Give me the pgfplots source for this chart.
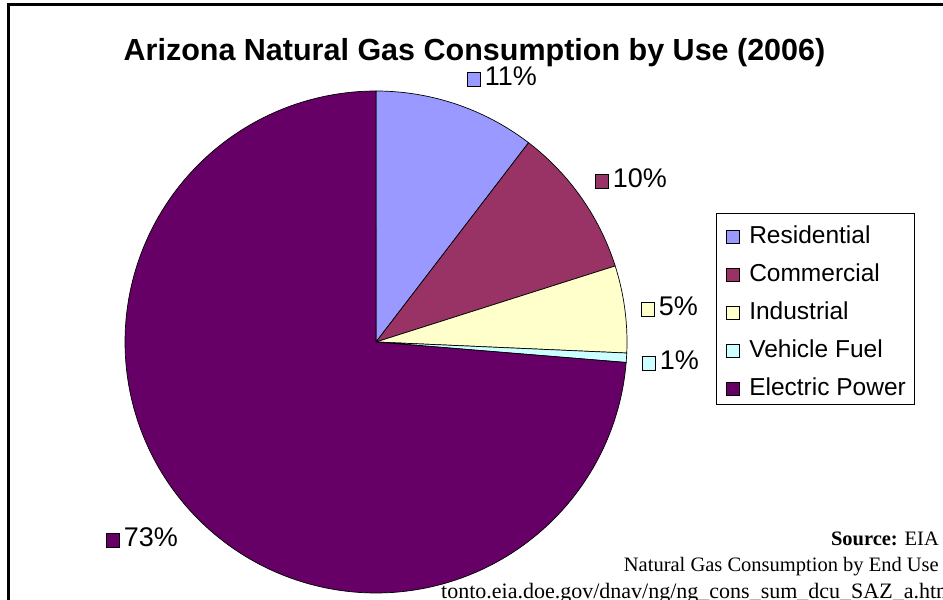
\documentclass[border=0pt]{standalone}
\usepackage{pgfplots}
\pgfplotsset{compat=1.18}
\usepackage{fontspec}
\setmainfont{Liberation Sans}
\newfontfamily\seriffont{Liberation Serif}
\definecolor{cRes}{HTML}{9999FF}
\definecolor{cCom}{HTML}{993366}
\definecolor{cInd}{HTML}{FFFFCC}
\definecolor{cVeh}{HTML}{CCFFFF}
\definecolor{cEle}{HTML}{660066}
\newcommand\sq[1]{{\setlength\fboxsep{0pt}\setlength\fboxrule{0.8pt}\fcolorbox{black}{#1}{\rule{0pt}{13pt}\rule{12pt}{0pt}}}}
% shares in percent (clockwise from 12 o'clock): Residential 10.4, Commercial 9.7, Industrial 5.6, Vehicle Fuel 0.6, Electric Power 73.7
\begin{document}
\begin{tikzpicture}[x=1pt,y=1pt]
\useasboundingbox (0,0) rectangle (943,600);
\fill[white] (0,0) rectangle (943,600);
\draw[line width=2.2pt] (8.5,-20) -- (8.5,595.5) -- (980,595.5);
\node[anchor=base, inner sep=0, font=\bfseries\fontsize{30.5}{36}\selectfont] at (474.5,539.5) {Arizona Natural Gas Consumption by Use (2006)};
\begin{axis}[at={(376pt,258pt)}, anchor=center, hide axis, x=251pt, y=251pt,
  xmin=-1, xmax=1, ymin=-1, ymax=1, clip=false,
  legend cell align=left,
  legend image code/.code={\path (0pt,0pt) rectangle (0pt,0pt); \draw[#1, draw=black, line width=0.8pt] (10pt,-10pt) rectangle (23pt,3pt);},
  legend style={at={(1.1773,0.757)}, anchor=north west, draw=black, line width=1pt,
    inner xsep=0pt, inner ysep=9pt, row sep=17pt,
    font=\fontsize{24.5}{28}\selectfont,
    nodes={inner xsep=9pt, inner ysep=0pt, text height=21pt, text depth=0pt}},
  every axis plot/.append style={draw=black, line width=0.7pt}]
\addplot[fill=cRes, domain=0:10.4, samples=40, variable=\t] ({cos(90-3.6*t)},{sin(90-3.6*t)}) -- (axis cs:0,0) -- cycle;
\addlegendentry{Residential}
\addplot[fill=cCom, domain=10.4:20.1, samples=40, variable=\t] ({cos(90-3.6*t)},{sin(90-3.6*t)}) -- (axis cs:0,0) -- cycle;
\addlegendentry{Commercial}
\addplot[fill=cInd, domain=20.1:25.7, samples=30, variable=\t] ({cos(90-3.6*t)},{sin(90-3.6*t)}) -- (axis cs:0,0) -- cycle;
\addlegendentry{Industrial}
\addplot[fill=cVeh, domain=25.7:26.3, samples=5, variable=\t] ({cos(90-3.6*t)},{sin(90-3.6*t)}) -- (axis cs:0,0) -- cycle;
\addlegendentry{Vehicle Fuel}
\addplot[fill=cEle, domain=26.3:100, samples=200, variable=\t] ({cos(90-3.6*t)},{sin(90-3.6*t)}) -- (axis cs:0,0) -- cycle;
\addlegendentry{Electric Power}
\end{axis}
\begin{scope}[every node/.style={anchor=base west, inner sep=0, font=\fontsize{27}{30}\selectfont}]
\node at (467,514) {\sq{cRes}\hspace{4pt}11\%};
\node at (595,412) {\sq{cCom}\hspace{4pt}10\%};
\node at (641,284) {\sq{cInd}\hspace{4pt}5\%};
\node at (642,230) {\sq{cVeh}\hspace{4pt}1\%};
\node at (106,53) {\sq{cEle}\hspace{4pt}73\%};
\end{scope}
\begin{scope}[every node/.style={anchor=base east, inner sep=0, font=\seriffont\fontsize{20.5}{24}\selectfont}]
\node at (939,54) {\textbf{Source:} EIA};
\node at (939,28) {Natural Gas Consumption by End Use};
\node[anchor=base west, font=\seriffont\fontsize{22}{24}\selectfont] at (441,1.5) {tonto.eia.doe.gov/dnav/ng/ng\_cons\_sum\_dcu\_SAZ\_a.htm};
\end{scope}
\end{tikzpicture}
\end{document}
